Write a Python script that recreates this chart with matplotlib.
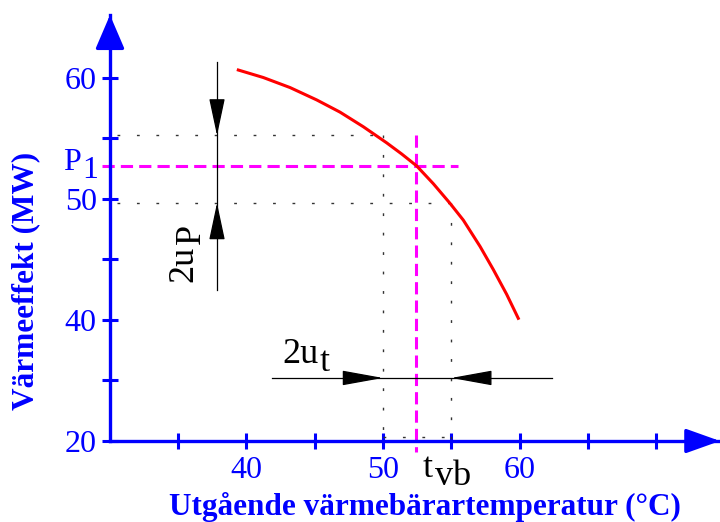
import numpy as np
import matplotlib
matplotlib.use('Agg')
import matplotlib.pyplot as plt

plt.rcParams['font.family'] = 'Liberation Serif'

# kurvan (temperatur °C, effekt MW)
temp = [39.40, 41.23, 43.19, 45.14, 46.85, 48.56, 50.27, 51.37, 52.47, 53.69,
        54.91, 55.88, 57.11, 58.08, 59.06, 59.91]
effekt = [60.66, 60.04, 59.21, 58.19, 57.18, 55.97, 54.64, 53.72, 52.73, 51.26,
          49.64, 48.26, 46.08, 44.17, 42.12, 40.14]

# arbetspunkt och osäkerhetsintervall
t_vb = 52.42
P1 = 52.73
t_lo, t_hi = 50.0, 55.0
P_lo, P_hi = 49.67, 55.25

xticks = [35, 40, 45, 50, 55, 60, 65, 70]
xticklabels = ['', '40', '', '50', '', '60', '', '']
yticks = [30, 35, 40, 45, 50, 55, 60]
yticklabels = ['20', '', '40', '', '50', '', '60']

blue = '#0000ff'
magenta = '#ff00ff'


def sub_text(ax, x, y, main, sub, size, color, rot=0):
    # subskript i samma storlek, lite nedflyttat (som i originalet)
    if rot == 0:
        t = ax.text(x, y, main, ha='left', va='baseline', fontsize=size,
                    color=color, clip_on=False)
        ax.annotate(sub, xy=(1, 0), xycoords=t, xytext=(1, -5.5),
                    textcoords='offset points', ha='left', va='bottom',
                    fontsize=size, color=color, annotation_clip=False)
    else:
        t = ax.text(x, y, main, ha='left', va='baseline', fontsize=size,
                    color=color, rotation=90, rotation_mode='anchor', clip_on=False)
        ax.annotate(sub, xy=(1, 1), xycoords=t, xytext=(5.5, 1),
                    textcoords='offset points', ha='right', va='bottom',
                    rotation=90, fontsize=size, color=color, annotation_clip=False)


fig = plt.figure(figsize=(7.2, 5.22), dpi=100)
ax = fig.add_axes([110/720, 81/522, 610/720, 426/522])
x0, x1 = 30, 30 + 610/13.65
y0, y1 = 30, 30 + 426/12.1
ax.set_xlim(x0, x1)
ax.set_ylim(y0, y1)

for s in ['top', 'right']:
    ax.spines[s].set_visible(False)
for s in ['left', 'bottom']:
    ax.spines[s].set_color(blue)
    ax.spines[s].set_linewidth(2.4)

ax.set_xticks(xticks)
ax.set_xticklabels(xticklabels)
ax.set_yticks(yticks)
ax.set_yticklabels(yticklabels)
ax.tick_params(axis='both', direction='inout', length=11, width=2.2, color=blue,
               labelcolor=blue, labelsize=23)
ax.tick_params(axis='x', pad=5)
ax.tick_params(axis='y', pad=4)

# pilar på axlarna
ax.annotate('', xy=(x0, y1), xytext=(x0, y1 - 2.2), annotation_clip=False,
            arrowprops=dict(arrowstyle='-|>,head_length=2.1,head_width=0.9', color=blue,
                            lw=2.4, shrinkA=0, shrinkB=0, mutation_scale=10))
ax.annotate('', xy=(x1, y0), xytext=(x1 - 2.05, y0), annotation_clip=False,
            arrowprops=dict(arrowstyle='-|>,head_length=2.1,head_width=0.75', color=blue,
                            lw=2.4, shrinkA=0, shrinkB=0, mutation_scale=10))

ax.set_xlabel('Utgående värmebärartemperatur (°C)', color=blue, fontsize=22.5,
              fontweight='bold')
ax.xaxis.set_label_coords((425 - 110)/610, -0.12)
ax.set_ylabel('Värmeeffekt (MW)', color=blue, fontsize=22.5, fontweight='bold')
ax.yaxis.set_label_coords(-0.115, (441 - 281)/426)

# streckade hjälplinjer
dot = dict(color='#333333', lw=1.0, linestyle=(0, (2, 12)))
ax.plot([30.5, t_lo], [P_hi, P_hi], **dot)
ax.plot([30.5, t_hi], [P_lo, P_lo], **dot)
ax.plot([t_lo, t_lo], [P_hi, 30], **dot)
ax.plot([t_hi, t_hi], [P_lo, 30], **dot)
ax.plot([t_lo, t_hi], [30.3, 30.3], **dot)

mag = dict(color=magenta, lw=2.2, linestyle=(0, (4, 2)), clip_on=False)
ax.plot([29.4, 55.5], [P1, P1], **mag)
ax.plot([t_vb, t_vb], [P_hi, 29.1], **mag)

ax.plot(temp, effekt, color='#ff0000', lw=2.2, solid_joinstyle='round')

# 2u_P
xp = 37.84
ax.plot([xp, xp], [61.32, 42.48], color='black', lw=0.9)
ax.annotate('', xy=(xp, P_hi), xytext=(xp, P_hi + 2.7),
            arrowprops=dict(arrowstyle='-|>,head_length=2.35,head_width=0.5', color='black',
                            lw=0.9, shrinkA=0, shrinkB=0, mutation_scale=10))
ax.annotate('', xy=(xp, P_lo), xytext=(xp, P_lo - 2.8),
            arrowprops=dict(arrowstyle='-|>,head_length=2.35,head_width=0.5', color='black',
                            lw=0.9, shrinkA=0, shrinkB=0, mutation_scale=10))
sub_text(ax, 36.01, 43.14, '2u', 'P', 26, 'black', rot=90)

# 2u_t
yt = 35.21
ax.plot([41.87, 62.38], [yt, yt], color='black', lw=0.9)
ax.annotate('', xy=(t_lo, yt), xytext=(t_lo - 2.6, yt),
            arrowprops=dict(arrowstyle='-|>,head_length=2.6,head_width=0.47', color='black',
                            lw=0.9, shrinkA=0, shrinkB=0, mutation_scale=10))
ax.annotate('', xy=(t_hi, yt), xytext=(t_hi + 2.6, yt),
            arrowprops=dict(arrowstyle='-|>,head_length=2.6,head_width=0.47', color='black',
                            lw=0.9, shrinkA=0, shrinkB=0, mutation_scale=10))
sub_text(ax, 42.6, 36.45, '2u', 't', 26, 'black')

sub_text(ax, 52.93, 27.02, 't', 'vb', 26, 'black')
sub_text(ax, 26.56, 52.40, 'P', '1', 23, blue)

fig.savefig('out.png', dpi=100)
